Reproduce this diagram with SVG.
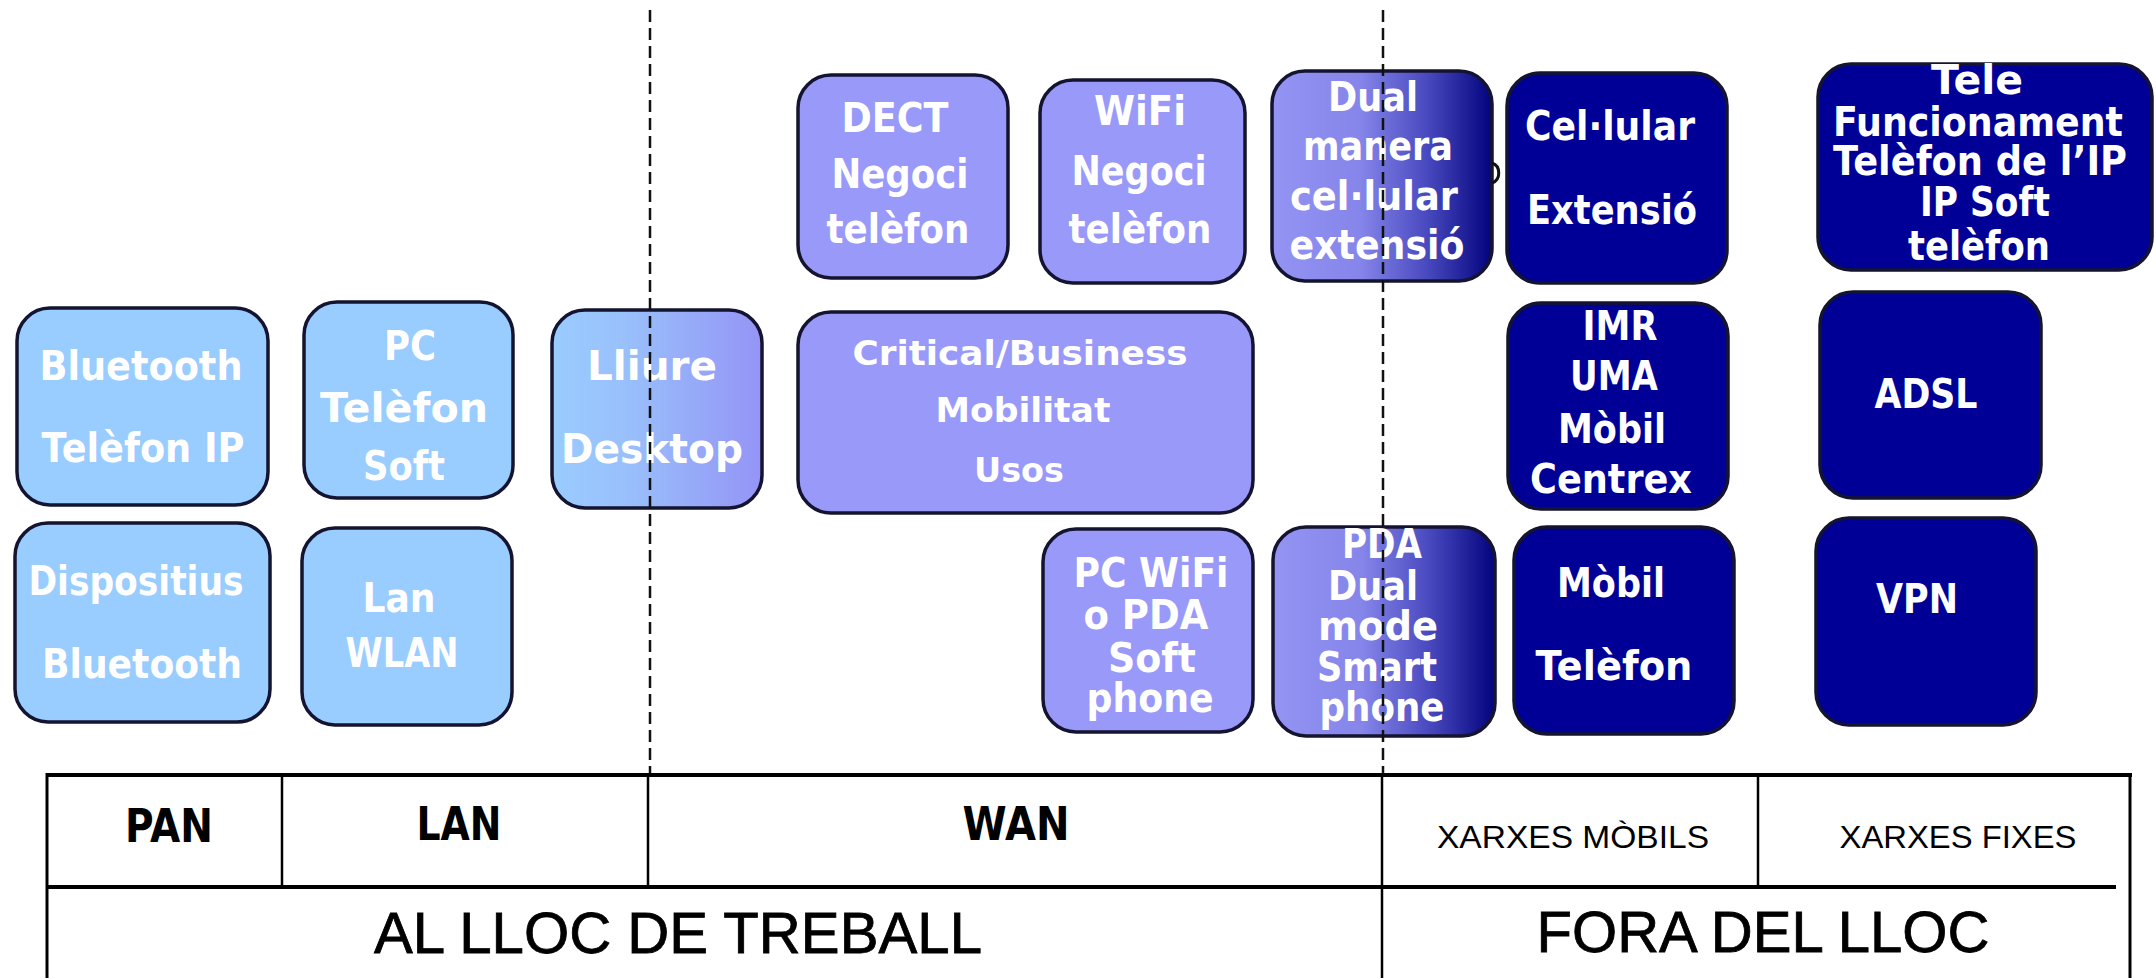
<svg xmlns="http://www.w3.org/2000/svg" width="2156" height="978" viewBox="0 0 2156 978">
<defs>
<linearGradient id="gLB" x1="0" y1="0" x2="1" y2="0">
<stop offset="0" stop-color="#99ccff"/>
<stop offset="0.35" stop-color="#99c0fb"/>
<stop offset="1" stop-color="#9494f6"/>
</linearGradient>
<linearGradient id="gPN" x1="0" y1="0" x2="1" y2="0">
<stop offset="0" stop-color="#9494f4"/>
<stop offset="0.4" stop-color="#8585ea"/>
<stop offset="0.7" stop-color="#4a4ac0"/>
<stop offset="1" stop-color="#03037e"/>
</linearGradient>
<style>
.bx{stroke:#141430;stroke-width:3.5}
.lb{fill:#99ccff}
.pu{fill:#9999fa}
.nv{fill:#000096}
.t{font-family:"DejaVu Sans","Liberation Sans",sans-serif;font-weight:bold;font-size:41px;fill:#ffffff;text-anchor:middle}
.h{font-family:"DejaVu Sans","Liberation Sans",sans-serif;font-weight:bold;font-size:46px;fill:#000;text-anchor:middle}
.s{font-family:"Liberation Sans",Arial,sans-serif;font-size:32px;fill:#000;text-anchor:middle}
.b{font-family:"Liberation Sans",Arial,sans-serif;font-size:58px;fill:#000;stroke:#000;stroke-width:0.8;text-anchor:middle}
.dash{stroke:#111;stroke-width:2.5;stroke-dasharray:12 6;fill:none}
.tl{stroke:#000;fill:none}
</style>
</defs>
<rect width="2156" height="978" fill="#ffffff"/>

<g id="node-bluetooth-telefon">
<rect class="bx lb" x="17" y="308" width="251" height="197" rx="33"/>
<text class="t" x="141" y="380" textLength="203" lengthAdjust="spacingAndGlyphs">Bluetooth</text>
<text class="t" x="143" y="462" textLength="203" lengthAdjust="spacingAndGlyphs">Telèfon IP</text>
</g>
<g id="node-pc-telefon-soft">
<rect class="bx lb" x="304" y="302" width="209" height="196" rx="33"/>
<text class="t" x="410" y="360" textLength="52" lengthAdjust="spacingAndGlyphs">PC</text>
<text class="t" x="404" y="422" textLength="168" lengthAdjust="spacingAndGlyphs">Telèfon</text>
<text class="t" x="404" y="480" textLength="82" lengthAdjust="spacingAndGlyphs">Soft</text>
</g>
<g id="node-lliure-desktop">
<rect class="bx" fill="url(#gLB)" x="552" y="310" width="210" height="198" rx="33"/>
<text class="t" x="652" y="380" textLength="130" lengthAdjust="spacingAndGlyphs">Lliure</text>
<text class="t" x="652" y="463" textLength="182" lengthAdjust="spacingAndGlyphs">Desktop</text>
</g>
<g id="node-dispositius-bluetooth">
<rect class="bx lb" x="15" y="523" width="255" height="199" rx="33"/>
<text class="t" x="136" y="595" textLength="215" lengthAdjust="spacingAndGlyphs">Dispositius</text>
<text class="t" x="142" y="678" textLength="200" lengthAdjust="spacingAndGlyphs">Bluetooth</text>
</g>
<g id="node-lan-wlan">
<rect class="bx lb" x="302" y="528" width="210" height="197" rx="33"/>
<text class="t" x="399" y="612" textLength="73" lengthAdjust="spacingAndGlyphs">Lan</text>
<text class="t" x="402" y="667" textLength="113" lengthAdjust="spacingAndGlyphs">WLAN</text>
</g>

<g id="node-dect">
<rect class="bx pu" x="798" y="75" width="210" height="203" rx="33"/>
<text class="t" x="895" y="132" textLength="107" lengthAdjust="spacingAndGlyphs">DECT</text>
<text class="t" x="900" y="188" textLength="137" lengthAdjust="spacingAndGlyphs">Negoci</text>
<text class="t" x="898" y="243" textLength="143" lengthAdjust="spacingAndGlyphs">telèfon</text>
</g>
<g id="node-wifi">
<rect class="bx pu" x="1040" y="80" width="205" height="203" rx="33"/>
<text class="t" x="1140" y="125" textLength="92" lengthAdjust="spacingAndGlyphs">WiFi</text>
<text class="t" x="1139" y="185" textLength="135" lengthAdjust="spacingAndGlyphs">Negoci</text>
<text class="t" x="1140" y="243" textLength="143" lengthAdjust="spacingAndGlyphs">telèfon</text>
</g>
<g id="node-dual-manera">
<rect class="bx" fill="url(#gPN)" x="1272" y="71" width="220" height="210" rx="33"/>
<text class="t" x="1373" y="111" textLength="90" lengthAdjust="spacingAndGlyphs">Dual</text>
<text class="t" x="1378" y="160" textLength="150" lengthAdjust="spacingAndGlyphs">manera</text>
<text class="t" x="1374" y="210" textLength="168" lengthAdjust="spacingAndGlyphs">cel·lular</text>
<text class="t" x="1377" y="259" textLength="175" lengthAdjust="spacingAndGlyphs">extensió</text>
</g>
<g id="node-cellular-extensio">
<rect class="bx nv" x="1507" y="73" width="220" height="210" rx="33"/>
<text class="t" x="1610" y="140" textLength="170" lengthAdjust="spacingAndGlyphs">Cel·lular</text>
<text class="t" x="1612" y="224" textLength="170" lengthAdjust="spacingAndGlyphs">Extensió</text>
</g>
<g id="node-tele">
<rect class="bx nv" x="1818" y="64" width="334" height="206" rx="33"/>
<text class="t" x="1977" y="94" textLength="92" lengthAdjust="spacingAndGlyphs">Tele</text>
<text class="t" x="1978" y="136" textLength="290" lengthAdjust="spacingAndGlyphs">Funcionament</text>
<text class="t" x="1980" y="175" textLength="294" lengthAdjust="spacingAndGlyphs">Telèfon de l’IP</text>
<text class="t" x="1985" y="216" textLength="130" lengthAdjust="spacingAndGlyphs">IP Soft</text>
<text class="t" x="1979" y="260" textLength="142" lengthAdjust="spacingAndGlyphs">telèfon</text>
</g>

<g id="node-critical">
<rect class="bx pu" x="798" y="312" width="455" height="201" rx="33"/>
<text class="t" x="1020" y="365" style="font-size:33px" textLength="335" lengthAdjust="spacingAndGlyphs">Critical/Business</text>
<text class="t" x="1023" y="422" style="font-size:33px" textLength="175" lengthAdjust="spacingAndGlyphs">Mobilitat</text>
<text class="t" x="1019" y="482" style="font-size:33px" textLength="90" lengthAdjust="spacingAndGlyphs">Usos</text>
</g>
<g id="node-imr">
<rect class="bx nv" x="1508" y="303" width="220" height="206" rx="33"/>
<text class="t" x="1620" y="340" textLength="75" lengthAdjust="spacingAndGlyphs">IMR</text>
<text class="t" x="1614" y="390" textLength="88" lengthAdjust="spacingAndGlyphs">UMA</text>
<text class="t" x="1612" y="443" textLength="108" lengthAdjust="spacingAndGlyphs">Mòbil</text>
<text class="t" x="1611" y="493" textLength="162" lengthAdjust="spacingAndGlyphs">Centrex</text>
</g>
<g id="node-adsl">
<rect class="bx nv" x="1820" y="292" width="221" height="206" rx="33"/>
<text class="t" x="1926" y="408" textLength="103" lengthAdjust="spacingAndGlyphs">ADSL</text>
</g>

<g id="node-pc-wifi">
<rect class="bx pu" x="1043" y="529" width="210" height="203" rx="33"/>
<text class="t" x="1151" y="587" textLength="155" lengthAdjust="spacingAndGlyphs">PC WiFi</text>
<text class="t" x="1146" y="629" textLength="125" lengthAdjust="spacingAndGlyphs">o PDA</text>
<text class="t" x="1152" y="672" textLength="88" lengthAdjust="spacingAndGlyphs">Soft</text>
<text class="t" x="1150" y="712" textLength="127" lengthAdjust="spacingAndGlyphs">phone</text>
</g>
<g id="node-pda-dual">
<rect class="bx" fill="url(#gPN)" x="1273" y="527" width="222" height="209" rx="33"/>
<text class="t" x="1382" y="558" textLength="80" lengthAdjust="spacingAndGlyphs">PDA</text>
<text class="t" x="1373" y="600" textLength="90" lengthAdjust="spacingAndGlyphs">Dual</text>
<text class="t" x="1378" y="640" textLength="120" lengthAdjust="spacingAndGlyphs">mode</text>
<text class="t" x="1377" y="681" textLength="120" lengthAdjust="spacingAndGlyphs">Smart</text>
<text class="t" x="1382" y="721" textLength="125" lengthAdjust="spacingAndGlyphs">phone</text>
</g>
<g id="node-mobil-telefon">
<rect class="bx nv" x="1514" y="527" width="220" height="207" rx="33"/>
<text class="t" x="1611" y="597" textLength="108" lengthAdjust="spacingAndGlyphs">Mòbil</text>
<text class="t" x="1614" y="680" textLength="157" lengthAdjust="spacingAndGlyphs">Telèfon</text>
</g>
<g id="node-vpn">
<rect class="bx nv" x="1816" y="518" width="220" height="207" rx="33"/>
<text class="t" x="1917" y="613" textLength="82" lengthAdjust="spacingAndGlyphs">VPN</text>
</g>

<g id="connectors">
<path d="M1492,163 C1501,166 1501,180 1492,183" stroke="#111" stroke-width="3" fill="none"/>
<line class="dash" x1="650" y1="10" x2="650" y2="774"/>
<line class="dash" x1="1383" y1="10" x2="1383" y2="774"/>
</g>

<g id="table">
<line class="tl" x1="46" y1="775" x2="2132" y2="775" stroke-width="4"/>
<line class="tl" x1="46" y1="887" x2="2116" y2="887" stroke-width="4"/>
<line class="tl" x1="47" y1="773" x2="47" y2="978" stroke-width="3"/>
<line class="tl" x1="2130" y1="773" x2="2130" y2="978" stroke-width="3"/>
<line class="tl" x1="282" y1="775" x2="282" y2="887" stroke-width="2.5"/>
<line class="tl" x1="648" y1="775" x2="648" y2="887" stroke-width="2.5"/>
<line class="tl" x1="1382" y1="775" x2="1382" y2="978" stroke-width="2.5"/>
<line class="tl" x1="1758" y1="775" x2="1758" y2="887" stroke-width="2.5"/>
<text class="h" x="169" y="842" textLength="88" lengthAdjust="spacingAndGlyphs">PAN</text>
<text class="h" x="459" y="840" textLength="85" lengthAdjust="spacingAndGlyphs">LAN</text>
<text class="h" x="1016" y="840" textLength="107" lengthAdjust="spacingAndGlyphs">WAN</text>
<text class="s" x="1573" y="848" textLength="272" lengthAdjust="spacingAndGlyphs">XARXES MÒBILS</text>
<text class="s" x="1958" y="848" textLength="237" lengthAdjust="spacingAndGlyphs">XARXES FIXES</text>
<text class="b" x="678" y="953" textLength="608" lengthAdjust="spacingAndGlyphs">AL LLOC DE TREBALL</text>
<text class="b" x="1763" y="952" textLength="453" lengthAdjust="spacingAndGlyphs">FORA DEL LLOC</text>
</g>
</svg>
